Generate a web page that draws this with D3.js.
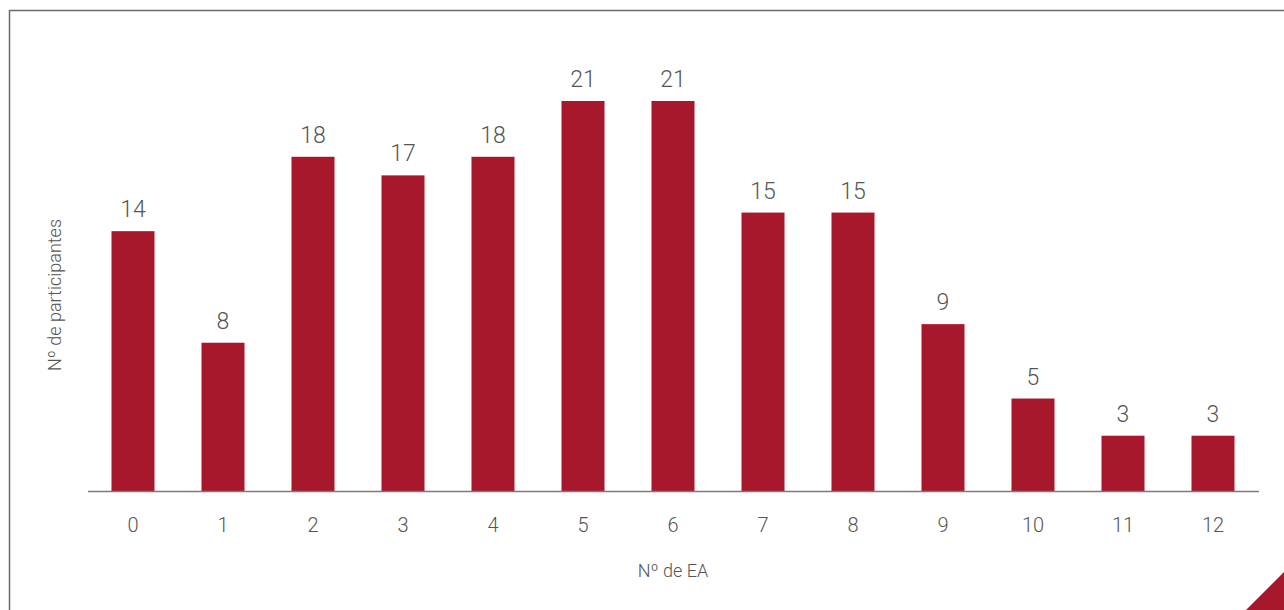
<!DOCTYPE html>
<html>
<head>
<meta charset="utf-8">
<script src="https://cdn.jsdelivr.net/npm/d3@7"></script>
<style>
  html, body { margin: 0; padding: 0; background: #fff; }
  svg { display: block; }
  text { font-family: Roboto, "Noto Sans", sans-serif; font-weight: 300; fill: #555; }
</style>
</head>
<body>
<svg id="chart" width="1284" height="610"></svg>
<script>
const categories = ["0","1","2","3","4","5","6","7","8","9","10","11","12"];
const values = [14, 8, 18, 17, 18, 21, 21, 15, 15, 9, 5, 3, 3];
const xTitle = "Nº de EA";
const yTitle = "Nº de participantes";

const W = 1284, H = 610;
const svg = d3.select("#chart");

// frame
svg.append("path")
  .attr("d", `M9.5,${H + 2} L9.5,10.5 L${W + 2},10.5`)
  .attr("fill", "none").attr("stroke", "#6b6b6b").attr("stroke-width", 1.5);

// corner triangle
svg.append("path")
  .attr("d", `M1246,${H} L${W},572 L${W},${H} Z`)
  .attr("fill", "#a8182c");

const x = d3.scaleBand().domain(categories).range([88, 1258])
  .paddingInner(0.522).paddingOuter(0.261);
const y = d3.scaleLinear().domain([0, 21]).range([491.5, 101]);

const data = categories.map((c, i) => ({ c, v: values[i] }));

svg.append("g").selectAll("rect").data(data).join("rect")
  .attr("x", d => x(d.c))
  .attr("y", d => y(d.v))
  .attr("width", x.bandwidth())
  .attr("height", d => y(0) - y(d.v))
  .attr("fill", "#a8182c");

svg.append("g").selectAll("text").data(data).join("text")
  .attr("x", d => x(d.c) + x.bandwidth() / 2)
  .attr("y", d => y(d.v) - 14)
  .attr("text-anchor", "middle")
  .attr("font-size", 23)
  .text(d => d.v);

const xAxis = svg.append("g").attr("transform", `translate(0,${y(0)})`)
  .call(d3.axisBottom(x).tickSize(0).tickPadding(26));
xAxis.select(".domain").attr("stroke", "#7a7a7a").attr("stroke-width", 1.5)
  .attr("d", "M88,0H1259");
xAxis.selectAll("text").attr("font-size", 20)
  .style("font-family", "Roboto, 'Noto Sans', sans-serif").style("font-weight", 300).attr("fill", "#555");

svg.append("text")
  .attr("x", 673).attr("y", 577)
  .attr("text-anchor", "middle")
  .attr("font-size", 18)
  .text(xTitle);

svg.append("text")
  .attr("transform", "translate(61,295) rotate(-90)")
  .attr("text-anchor", "middle")
  .attr("font-size", 18)
  .text(yTitle);
</script>
</body>
</html>
